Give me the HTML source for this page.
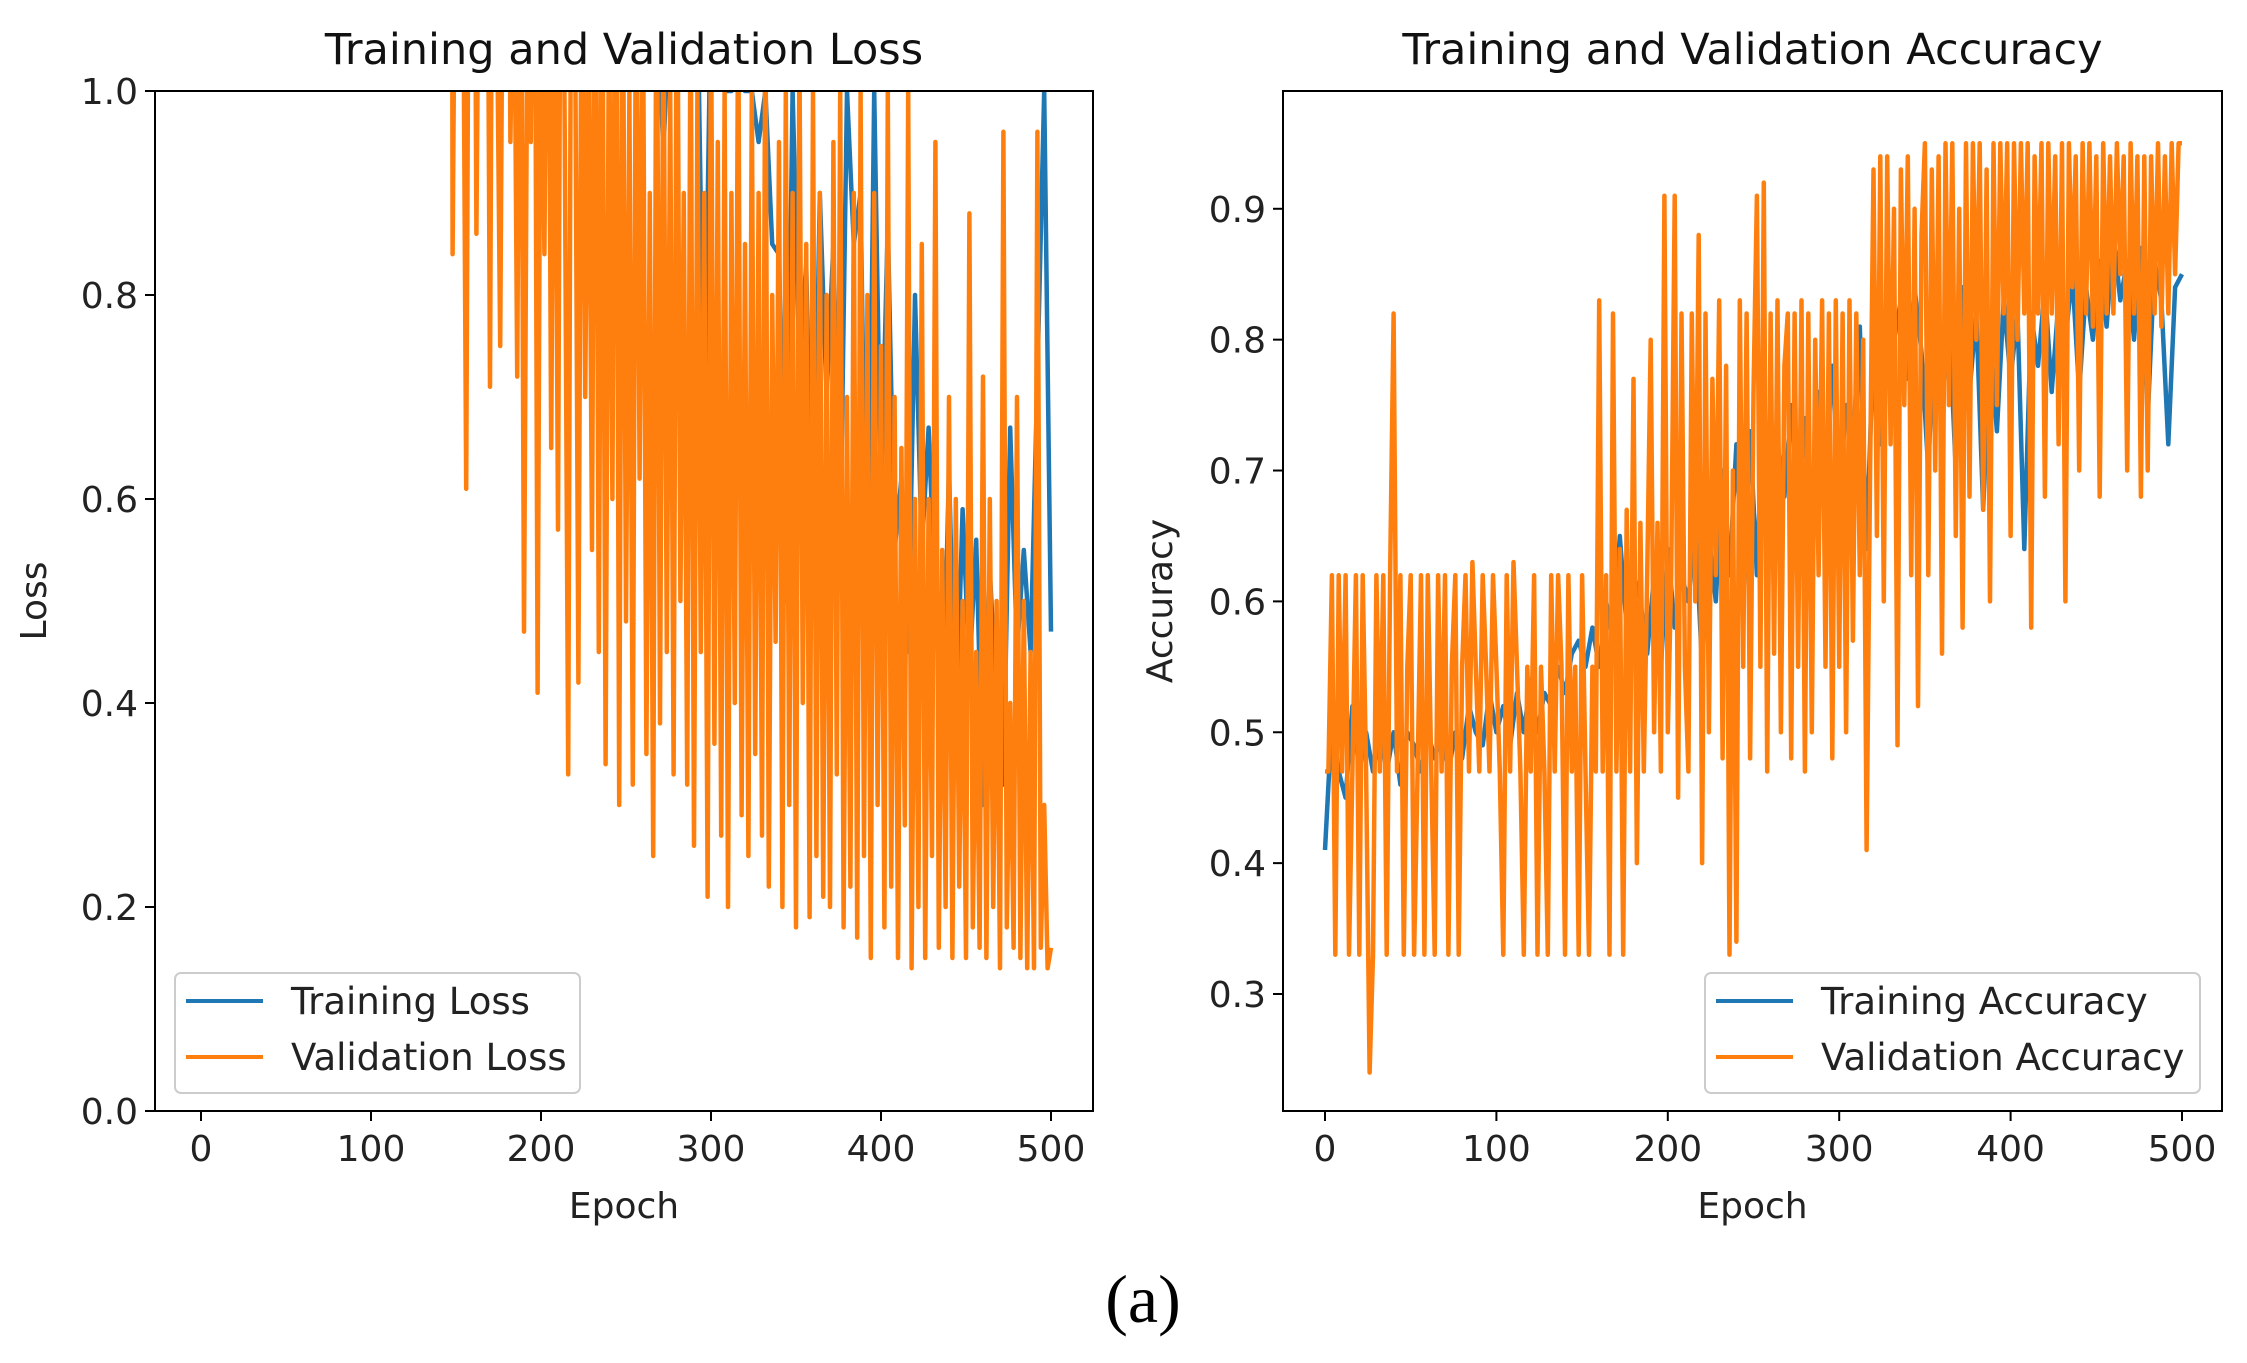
<!DOCTYPE html>
<html><head><meta charset="utf-8">
<style>
html,body{margin:0;padding:0;background:#fff;}
svg{display:block;font-family:"DejaVu Sans","Liberation Sans",sans-serif;}
</style></head>
<body>
<svg id="fig" width="2247" height="1363" viewBox="0 0 2247 1363" xmlns="http://www.w3.org/2000/svg">
<rect width="2247" height="1363" fill="#fff"/>
<defs>
<clipPath id="clipL"><rect x="155" y="91" width="938" height="1020"/></clipPath>
<clipPath id="clipR"><rect x="1283" y="91" width="939" height="1020"/></clipPath>
</defs>
<g id="lossPanel"></g>
<g id="accPanel"></g>
<text x="1143" y="1322" text-anchor="middle" font-family="Liberation Serif, serif" font-size="68" fill="#000">(a)</text>
</svg>
<script>
// ---- data ----
const epochs4 = [0,4,8,12,16,20,24,28,32,36,40,44,48,52,56,60,64,68,72,76,80,84,88,92,96,100,104,108,112,116,120,124,128,132,136,140,144,148,152,156,160,164,168,172,176,180,184,188,192,196,200,204,208,212,216,220,224,228,232,236,240,244,248,252,256,260,264,268,272,276,280,284,288,292,296,300,304,308,312,316,320,324,328,332,336,340,344,348,352,356,360,364,368,372,376,380,384,388,392,396,400,404,408,412,416,420,424,428,432,436,440,444,448,452,456,460,464,468,472,476,480,484,488,492,496,500];
const epochs2 = [];
for (let e = 0; e <= 500; e += 2) epochs2.push(e);
const trainLoss = [3,3,3,3,3,3,3,3,3,3,3,3,3,3,3,3,3,3,3,3,3,3,3,3,3,3,3,3,3,3,3,3,3,3,3,3,3,2.5,2.5,2.4,2.4,2.3,2.3,2.2,2.2,2.1,2.1,2,2,1.9,1.9,1.8,1.8,1.7,1.7,1.6,1.6,1.5,1.5,1.4,1.4,1.3,1.3,1.3,1.2,1.2,1.2,1.1,0.94,1.1,1.1,1.1,1.0,1.1,0.67,1.1,1.05,1.0,1.0,1.05,1.0,1.0,0.95,1.0,0.85,0.84,0.5,1.0,0.73,0.83,0.5,0.9,0.7,0.85,0.55,1.0,0.85,0.9,0.42,1.0,0.6,0.87,0.55,0.62,0.45,0.8,0.55,0.67,0.5,0.35,0.63,0.36,0.59,0.43,0.56,0.3,0.53,0.4,0.32,0.67,0.45,0.55,0.45,0.72,1.0,0.47];
const valLoss = [3,3,3,3,3,3,3,3,3,3,3,3,3,3,3,3,3,3,3,3,3,3,3,3,3,3,3,3,3,3,3,3,3,3,3,3,3,3,3,3,3,3,3,3,3,3,3,3,3,3,3,3,3,3,3,3,3,3,3,3,3,3,3,3,3,3,3,3,3,3,3,3,3,3,
0.84,1.3,1.5,1.2,0.61,1.4,1.6,0.86,1.3,1.2,
1.4,0.71,1.5,1.1,0.75,1.3,1.6,0.95,1.2,0.72,
1.3,0.47,1.1,0.95,1.4,0.41,1.2,0.84,1.3,0.65,
1.2,0.57,1.4,0.95,0.33,1.3,1.1,0.42,1.2,0.70,
1.1,0.55,1.3,0.45,1.2,0.34,1.1,0.60,1.3,0.30,
1.2,0.48,1.0,0.32,1.2,0.62,1.1,0.35,0.9,0.25,
1.2,0.38,1.1,0.45,1.0,0.33,1.2,0.50,0.9,0.32,
1.1,0.26,1.0,0.45,0.9,0.21,1.1,0.36,0.95,0.27,
1.0,0.20,0.9,0.40,1.1,0.29,0.85,0.25,1.0,0.35,
0.9,0.27,1.1,0.22,0.8,0.46,0.95,0.20,1.0,0.30,
0.9,0.18,1.05,0.40,0.85,0.19,1.0,0.25,0.9,0.21,
0.8,0.20,0.95,0.33,1.0,0.18,0.7,0.22,0.9,0.17,
1.0,0.25,0.8,0.15,0.9,0.30,0.75,0.18,1.0,0.22,
0.7,0.15,0.65,0.28,1.0,0.14,0.6,0.20,0.85,0.15,
0.6,0.25,0.95,0.16,0.55,0.20,0.7,0.15,0.6,0.22,
0.5,0.15,0.88,0.18,0.45,0.16,0.72,0.15,0.6,0.20,
0.5,0.14,0.96,0.18,0.4,0.16,0.7,0.15,0.5,0.14,
0.45,0.14,0.96,0.16,0.3,0.14,0.16];
const trainAcc = [0.41,0.51,0.47,0.45,0.52,0.47,0.5,0.47,0.5,0.47,0.5,0.46,0.5,0.49,0.47,0.5,0.48,0.5,0.47,0.5,0.48,0.52,0.5,0.49,0.53,0.5,0.52,0.49,0.53,0.5,0.54,0.5,0.53,0.52,0.55,0.53,0.56,0.57,0.55,0.58,0.55,0.6,0.57,0.65,0.58,0.62,0.6,0.56,0.62,0.55,0.64,0.58,0.62,0.6,0.66,0.55,0.65,0.6,0.7,0.62,0.72,0.6,0.73,0.62,0.76,0.64,0.72,0.68,0.75,0.66,0.74,0.64,0.76,0.7,0.78,0.68,0.75,0.72,0.81,0.64,0.8,0.72,0.82,0.8,0.83,0.77,0.84,0.79,0.7,0.83,0.75,0.82,0.7,0.84,0.76,0.82,0.67,0.8,0.73,0.83,0.77,0.82,0.64,0.82,0.78,0.84,0.76,0.83,0.8,0.85,0.76,0.84,0.8,0.86,0.81,0.88,0.83,0.86,0.8,0.87,0.74,0.86,0.83,0.72,0.84,0.85];
const valAcc = [
0.47,0.47,0.62,0.33,0.62,0.47,0.62,0.33,0.47,0.62,
0.33,0.62,0.47,0.24,0.33,0.62,0.47,0.62,0.33,0.62,
0.82,0.47,0.62,0.33,0.55,0.62,0.33,0.47,0.62,0.33,
0.62,0.47,0.33,0.62,0.47,0.62,0.33,0.55,0.62,0.33,
0.55,0.62,0.47,0.63,0.55,0.47,0.62,0.55,0.47,0.62,
0.55,0.47,0.33,0.62,0.47,0.63,0.55,0.47,0.33,0.55,
0.47,0.62,0.33,0.55,0.47,0.33,0.62,0.47,0.62,0.55,
0.33,0.62,0.47,0.55,0.33,0.62,0.47,0.33,0.55,0.47,
0.83,0.47,0.62,0.33,0.82,0.47,0.64,0.33,0.67,0.47,
0.77,0.40,0.66,0.47,0.62,0.80,0.50,0.66,0.47,0.91,
0.50,0.62,0.91,0.45,0.82,0.55,0.47,0.82,0.60,0.88,
0.40,0.82,0.50,0.77,0.62,0.83,0.48,0.78,0.33,0.70,
0.34,0.83,0.55,0.82,0.48,0.76,0.91,0.55,0.92,0.47,
0.82,0.56,0.83,0.50,0.78,0.82,0.48,0.82,0.55,0.83,
0.47,0.82,0.50,0.80,0.62,0.83,0.55,0.82,0.48,0.83,
0.55,0.82,0.50,0.83,0.57,0.82,0.62,0.80,0.41,0.70,
0.93,0.65,0.94,0.60,0.94,0.72,0.90,0.49,0.93,0.75,
0.94,0.62,0.90,0.52,0.88,0.95,0.62,0.93,0.70,0.94,
0.56,0.95,0.75,0.95,0.65,0.90,0.58,0.95,0.68,0.95,
0.80,0.95,0.67,0.93,0.60,0.95,0.75,0.95,0.82,0.95,
0.65,0.95,0.80,0.95,0.82,0.95,0.58,0.94,0.82,0.95,
0.68,0.95,0.82,0.94,0.72,0.95,0.60,0.95,0.84,0.94,
0.70,0.95,0.82,0.95,0.81,0.94,0.68,0.95,0.82,0.94,
0.82,0.95,0.85,0.94,0.70,0.95,0.82,0.94,0.68,0.94,
0.70,0.94,0.82,0.95,0.81,0.94,0.82,0.95,0.85,0.95,
0.95];
const xTicks = [0,100,200,300,400,500];
const lossTicks = [0.0,0.2,0.4,0.6,0.8,1.0];
const accTicks = [0.3,0.4,0.5,0.6,0.7,0.8,0.9];

const NS = "http://www.w3.org/2000/svg";
function mk(tag, attrs, parent){const e=document.createElementNS(NS,tag);for(const k in attrs)e.setAttribute(k,attrs[k]);parent.appendChild(e);return e;}

function panel(g, opt){
  const L=opt.left,R=opt.right,T=91,B=1111;
  const xs=v=>opt.x0+(v-0)/500*(opt.x500-opt.x0);
  const ys=v=>B-(v-opt.ymin)/(opt.ymax-opt.ymin)*(B-T);
  const drawLine=(ep,vals,color,name)=>{
    let d="";vals.forEach((v,i)=>{d+=(i?"L":"M")+xs(ep[i]).toFixed(1)+" "+ys(v).toFixed(1);});
    const p=mk("path",{d:d,fill:"none",stroke:color,"stroke-width":4.5,"stroke-linejoin":"round","clip-path":"url(#"+opt.clip+")"},g);
    
    
  };
  drawLine(epochs4,opt.train,"#1f77b4",opt.trainName);
  drawLine(epochs2,opt.val,"#ff7f0e",opt.valName);
  const fr=mk("rect",{x:L,y:T,width:R-L,height:B-T,fill:"none",stroke:"#000","stroke-width":2},g);
  
  
  xTicks.forEach(t=>{
    const x=xs(t);
    const tk=mk("line",{x1:x,y1:B,x2:x,y2:B+10,stroke:"#000","stroke-width":2},g);
    
    
    const tl=mk("text",{x:x,y:B+50,"text-anchor":"middle","font-size":36,fill:"#222"},g);
    tl.textContent=t;
    
    
  });
  opt.yTicks.forEach(t=>{
    const y=ys(t);
    const tk=mk("line",{x1:L-10,y1:y,x2:L,y2:y,stroke:"#000","stroke-width":2},g);
    
    
    const tl=mk("text",{x:L-17,y:y+13,"text-anchor":"end","font-size":36,fill:"#222"},g);
    tl.textContent=t.toFixed(1);
    
    
  });
  const ttl=mk("text",{x:(L+R)/2,y:64,"text-anchor":"middle","font-size":43,fill:"#111"},g);
  ttl.textContent=opt.title;
  
  
  const xl=mk("text",{x:(L+R)/2,y:1218,"text-anchor":"middle","font-size":36,fill:"#222"},g);
  xl.textContent="Epoch";
  
  
  const yl=mk("text",{x:0,y:0,"text-anchor":"middle","font-size":36,fill:"#222",transform:"translate("+opt.ylx+","+(T+B)/2+") rotate(-90)"},g);
  yl.textContent=opt.ylabel;
  
  
  const lg=mk("g",{},g);
  
  
  mk("rect",{x:opt.lx,y:973,width:opt.lw,height:120,rx:6,fill:"#fff","fill-opacity":0.85,stroke:"#ccc","stroke-width":2},lg);
  [[opt.trainName,"#1f77b4",opt.trainLabel,1001],[opt.valName,"#ff7f0e",opt.valLabel,1057]].forEach(e=>{
    const en=mk("g",{},lg);
    
    
    mk("line",{x1:opt.lx+11,y1:e[3],x2:opt.lx+88,y2:e[3],stroke:e[1],"stroke-width":4},en);
    const tx=mk("text",{x:opt.lx+116,y:e[3]+13,"font-size":37,fill:"#222"},en);
    tx.textContent=e[2];
  });
}

panel(document.getElementById("lossPanel"),{left:155,right:1093,x0:201,x500:1051,ymin:0,ymax:1,clip:"clipL",
  train:trainLoss,val:valLoss,trainName:"training-loss-line",valName:"validation-loss-line",
  yTicks:lossTicks,title:"Training and Validation Loss",ylabel:"Loss",ylx:46,lx:175,lw:405,
  trainLabel:"Training Loss",valLabel:"Validation Loss"});
panel(document.getElementById("accPanel"),{left:1283,right:2222,x0:1325,x500:2182,ymin:0.2106,ymax:0.99,clip:"clipR",
  train:trainAcc,val:valAcc,trainName:"training-accuracy-line",valName:"validation-accuracy-line",
  yTicks:accTicks,title:"Training and Validation Accuracy",ylabel:"Accuracy",ylx:1172,lx:1705,lw:495,
  trainLabel:"Training Accuracy",valLabel:"Validation Accuracy"});
</script>
</body></html>
